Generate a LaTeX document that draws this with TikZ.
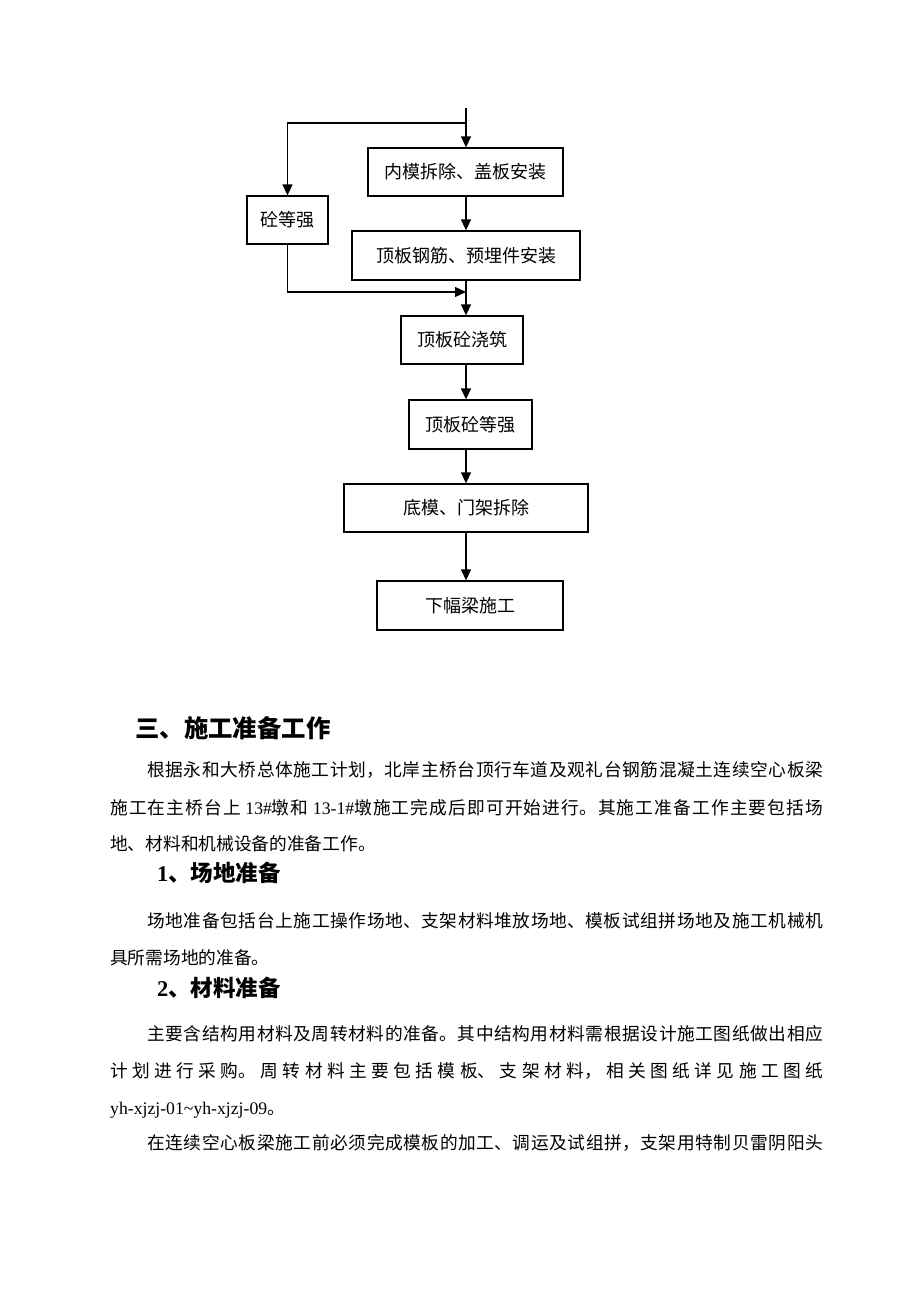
\documentclass[tikz,border=0pt]{standalone}
\usepackage{fontspec}
\setmainfont{Noto Sans CJK SC}
\newfontfamily\lat{Liberation Serif}
\usetikzlibrary{arrows.meta}
\XeTeXlinebreaklocale "zh"
\XeTeXlinebreakskip=0pt plus 1fil
\newcommand\jl[2]{\parbox[b]{#1}{\parindent=0pt\parfillskip=0pt\relax #2}}
\tikzset{
  box/.style={draw, line width=1.3pt, minimum height=48pt, inner sep=0pt,
    font=\fontsize{18pt}{20pt}\selectfont},
  arr/.style={line width=1.3pt, -{Triangle[length=11pt,width=10pt]}},
  txt/.style={anchor=base west, inner sep=0pt, font=\fontsize{17.7pt}{20pt}\selectfont},
  hd/.style={anchor=base west, inner sep=0pt, font=\fontsize{24.4pt}{26pt}\selectfont\bfseries},
  sub/.style={anchor=base west, inner sep=0pt, font=\fontsize{22.5pt}{24pt}\selectfont\bfseries}
}
\begin{document}
\begin{tikzpicture}[x=1pt,y=-1pt]
\path[use as bounding box, fill=white] (0,0) rectangle (920,1302);
% flowchart
\coordinate (top) at (466,108);
\coordinate (split) at (466,123);
\coordinate (ax) at (466,0);
\node[box, minimum width=195pt] (b1) at (465.5,172) {内模拆除、盖板安装};
\node[box, minimum width=81pt] (b0) at (287.5,220) {砼等强};
\node[box, minimum width=228pt, minimum height=49pt] (b2) at (466,255.5) {顶板钢筋、预埋件安装};
\node[box, minimum width=122pt] (b3) at (462,340) {顶板砼浇筑};
\node[box, minimum width=123pt, minimum height=49pt] (b4) at (470.5,424.5) {顶板砼等强};
\node[box, minimum width=244pt] (b5) at (466,508) {底模、门架拆除};
\node[box, minimum width=186pt, minimum height=49pt] (b6) at (470,605.5) {下幅梁施工};
\coordinate (join) at (466,292);
\draw[arr] (top) -- (top |- b1.north);
\draw[arr] (split) -| (b0.north);
\draw[arr] (b1.south -| ax) -- (b2.north -| ax);
\draw[arr] (b0.south) |- (join);
\draw[arr] (b2.south -| ax) -- (b3.north -| ax);
\draw[arr] (b3.south -| ax) -- (b4.north -| ax);
\draw[arr] (b4.south -| ax) -- (b5.north -| ax);
\draw[arr] (b5.south -| ax) -- (b6.north -| ax);
% text
\node[hd] (h0) at (135,737) {三、施工准备工作};
\node[txt] (p1a) at (147,776) {\jl{676pt}{根据永和大桥总体施工计划，北岸主桥台顶行车道及观礼台钢筋混凝土连续空心板梁}};
\node[txt] (p1b) at (110,814) {\jl{713pt}{施工在主桥台上{\lat\ 13\#}墩和{\lat\ 13-1\#}墩施工完成后即可开始进行。其施工准备工作主要包括场}};
\node[txt] (p1c) at (110,850) {地、材料和机械设备的准备工作。};
\node[sub] (h1) at (157,881) {{\lat\bfseries 1}、场地准备};
\node[txt] (p2a) at (147,927) {\jl{676pt}{场地准备包括台上施工操作场地、支架材料堆放场地、模板试组拼场地及施工机械机}};
\node[txt] (p2b) at (110,964) {具所需场地的准备。};
\node[sub] (h2) at (157,996) {{\lat\bfseries 2}、材料准备};
\node[txt] (p3a) at (147,1040) {\jl{676pt}{主要含结构用材料及周转材料的准备。其中结构用材料需根据设计施工图纸做出相应}};
\node[txt] (p3b) at (110,1077) {\jl{713pt}{计划进行采购。周转材料主要包括模板、支架材料，相关图纸详见施工图纸}};
\node[txt] (p3c) at (110,1114) {{\lat yh-xjzj-01\textasciitilde yh-xjzj-09}。};
\node[txt] (p4a) at (147,1149) {\jl{676pt}{在连续空心板梁施工前必须完成模板的加工、调运及试组拼，支架用特制贝雷阴阳头}};
\end{tikzpicture}
\end{document}
